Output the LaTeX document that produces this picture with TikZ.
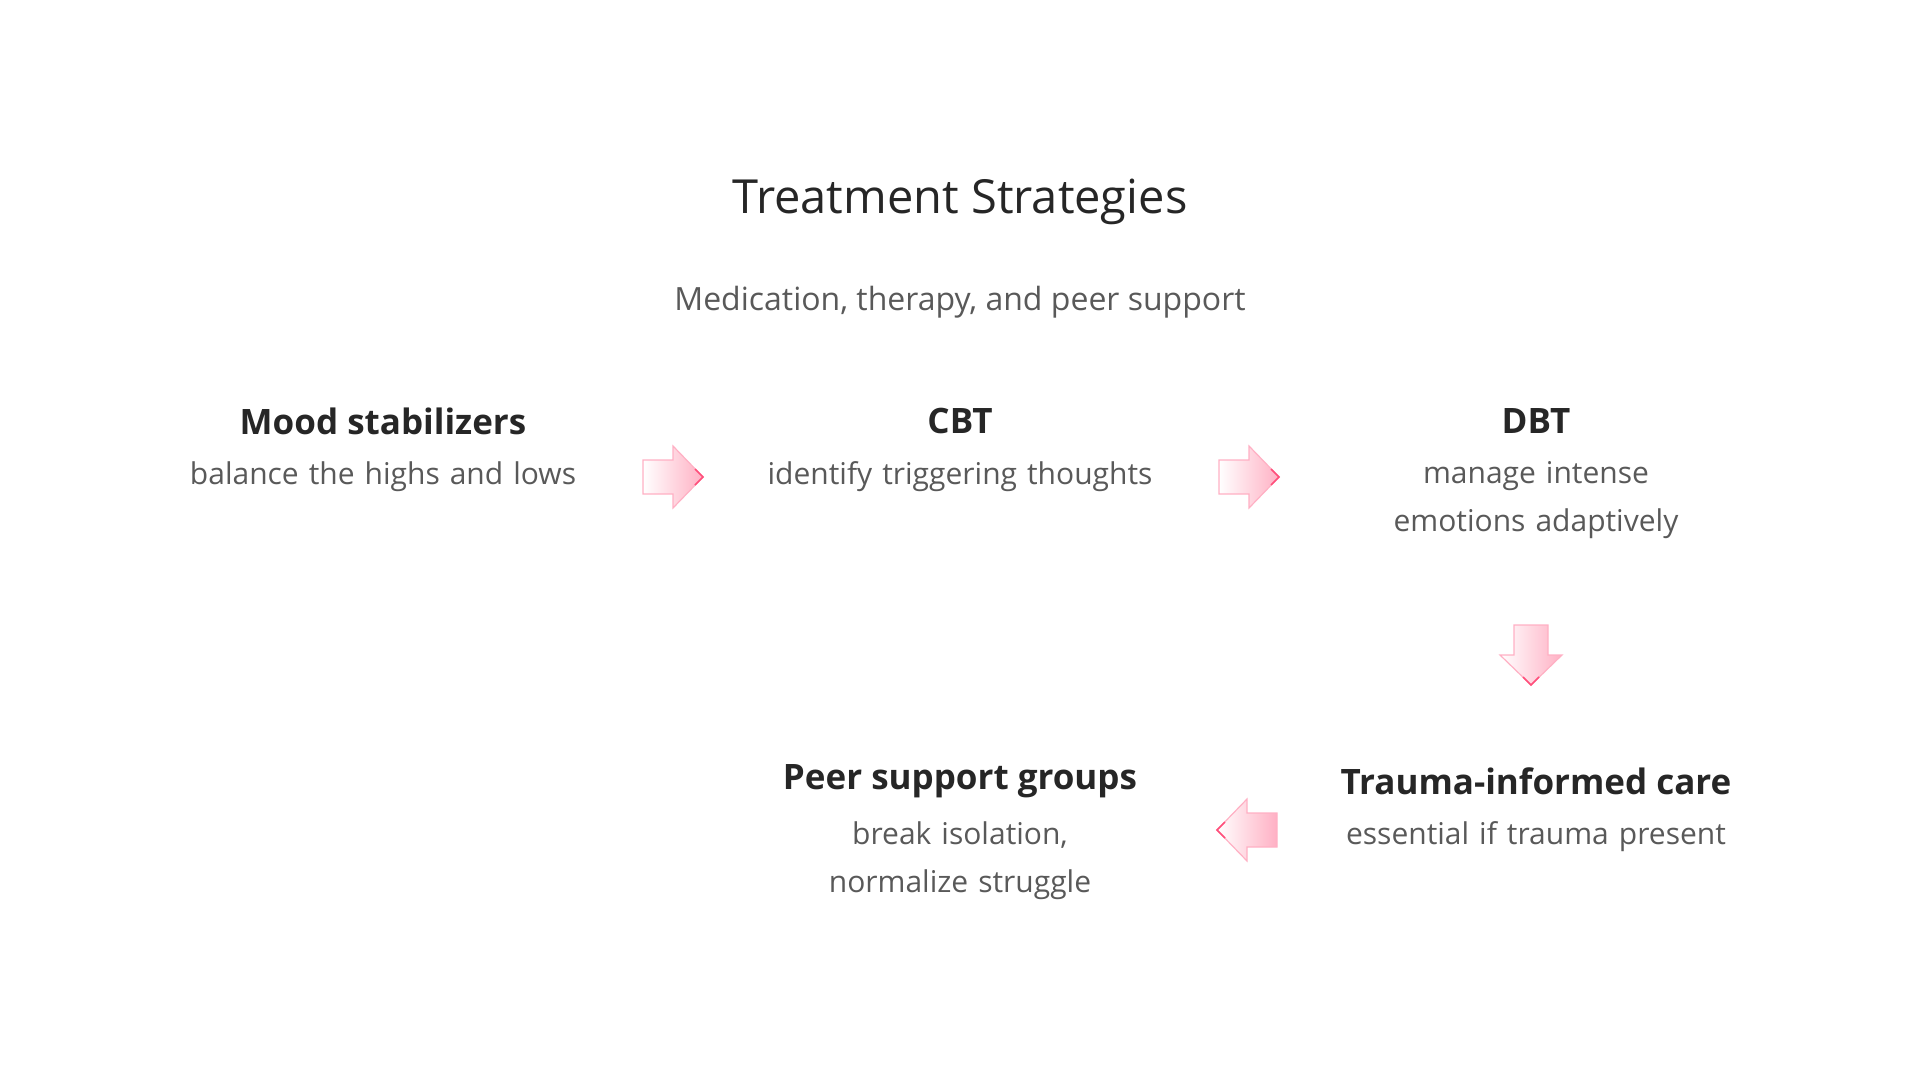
\documentclass[tikz,border=0pt]{standalone}
\usepackage{fontspec}
\setmainfont{Open Sans}
\definecolor{pk}{HTML}{FF4F7B}
\begin{document}
\begin{tikzpicture}[x=1pt,y=-1pt,
  title/.style={font=\fontsize{47}{54}\selectfont, text=black!85},
  sub/.style={font=\fontsize{32}{38}\selectfont, text=black!65},
  head/.style={font=\fontsize{35}{46}\selectfont\bfseries, text=black!85},
  desc/.style={font=\fontsize{30}{48}\selectfont, execute at begin node={\hyphenpenalty=10000\relax}, text=black!65, align=center, text width=470pt},
  arr/.pic={\shade[left color=white, right color=pk!45, draw=pk!45, line width=1.2pt, line join=miter]
     (-30,-17) -- (0,-17) -- (0,-31) -- (30,0) -- (0,31) -- (0,17) -- (-30,17) -- cycle;
     \draw[pk, line width=1.5pt] (22,-8) -- (30,0) -- (22,8);}]
\useasboundingbox (0,0) rectangle (1920,1080);
\node[title] (t) at (960,202) {Treatment Strategies};
\node[sub] (s) at (960,302) {Medication, therapy, and peer support};
\node[head] (h1) at (383,421) {Mood stabilizers};
\node[desc,anchor=north] (d1) at (383,458) {balance the highs and lows};
\node[head] (h2) at (960,421) {CBT};
\node[desc,anchor=north] (d2) at (960,458) {identify triggering thoughts};
\node[head] (h3) at (1536,421) {DBT};
\node[desc,anchor=north] (d3) at (1536,458) {manage intense emotions adaptively};
\node[head] (h4) at (1536,781) {Trauma-informed care};
\node[desc,anchor=north] (d4) at (1536,818) {essential if trauma present};
\node[head] (h5) at (960,781) {Peer support groups};
\node[desc,anchor=north] (d5) at (960,818) {break isolation, normalize struggle};
\pic at (673,477) {arr};
\pic at (1249,477) {arr};
\pic[rotate=-90] at (1531,655) {arr};
\pic[rotate=180] at (1247,830) {arr};
\end{tikzpicture}
\end{document}
